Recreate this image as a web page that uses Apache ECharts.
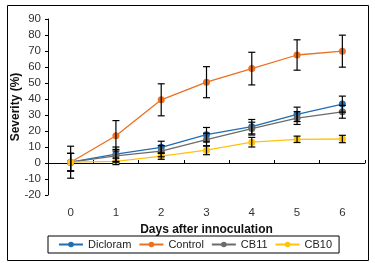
<!DOCTYPE html>
<html><head><meta charset="utf-8">
<script src="https://cdn.jsdelivr.net/npm/echarts@6/dist/echarts.min.js"></script>
<style>html,body{margin:0;padding:0;background:#fff}#c{width:375px;height:263px}</style>
</head><body><div id="c"></div>
<script>
const categories = ['0','1','2','3','4','5','6'];
const seriesNames = ['Dicloram','Control','CB11','CB10'];
const dicloram = [0.5, 5.5, 9.8, 17.7, 22.7, 30.4, 36.8];
const control  = [0.5, 17, 39.5, 50.5, 59, 67.5, 69.9];
const cb11     = [0.5, 4.5, 7.4, 14.6, 21.5, 28.1, 32];
const cb10     = [0.5, 1, 4.3, 8, 13, 14.8, 15];
const dicloramErr = [5.5, 4.5, 3.8, 4.5, 4.5, 4.5, 5];
const controlErr  = [10, 9.5, 10, 9.7, 10.2, 9.5, 10];
const cb11Err     = [5.5, 4, 3.5, 4, 4, 4, 4];
const cb10Err     = [5.5, 2, 2, 2.8, 3, 2, 2.3];
const yTicks = {min: -20, max: 90, interval: 10};
const colors = ['#1f6db3', '#ec6f22', '#6b6b6b', '#ffc20e'];

const font = '"Liberation Sans", Arial, sans-serif';
const values = [dicloram, control, cb11, cb10];
const errs = [dicloramErr, controlErr, cb11Err, cb10Err];

const series = [];
values.forEach((v, i) => {
  series.push({
    name: seriesNames[i], type: 'line', data: v,
    symbol: 'circle', symbolSize: 7,
    itemStyle: {color: colors[i]},
    lineStyle: {color: colors[i], width: 1.3},
    z: 2 + i,
    markLine: i === 0 ? {
      silent: true, symbol: 'none', label: {show: false},
      lineStyle: {color: '#000', type: [3, 3], width: 1},
      data: [{yAxis: 0}]
    } : undefined
  });
});
values.forEach((v, i) => {
  series.push({
    type: 'custom', z: 10,
    data: v.map((y, k) => [k, y - errs[i][k], y + errs[i][k]]),
    encode: {x: 0, y: [1, 2]},
    renderItem: function(params, api) {
      const x = api.value(0);
      const lo = api.coord([x, api.value(1)]);
      const hi = api.coord([x, api.value(2)]);
      const w = 3.5;
      const st = {stroke: '#000', lineWidth: 1.2};
      return {type: 'group', children: [
        {type: 'line', shape: {x1: lo[0], y1: lo[1], x2: hi[0], y2: hi[1]}, style: st},
        {type: 'line', shape: {x1: lo[0]-w, y1: lo[1], x2: lo[0]+w, y2: lo[1]}, style: st},
        {type: 'line', shape: {x1: hi[0]-w, y1: hi[1], x2: hi[0]+w, y2: hi[1]}, style: st}
      ]};
    }
  });
});

const chart = echarts.init(document.getElementById('c'));
chart.setOption({
  animation: false,
  textStyle: {fontFamily: font},
  graphic: [{type: 'rect', shape: {x: 7.5, y: 5.5, width: 361, height: 255},
    style: {fill: 'none', stroke: '#000', lineWidth: 1}, silent: true, z: -10}],
  grid: {left: 48, right: 10, top: 19, bottom: 68, outerBoundsMode: 'none'},
  legend: {
    data: seriesNames, top: 236, left: 48, width: 320,
    itemWidth: 24, itemHeight: 7, itemGap: 7,
    textStyle: {fontFamily: font, fontSize: 11, color: '#222'},
    borderColor: '#000', borderWidth: 1, padding: [3, 7, 3, 10]
  },
  xAxis: {
    type: 'category', data: categories, boundaryGap: true,
    name: 'Days after innoculation', nameLocation: 'middle', nameGap: 27,
    nameTextStyle: {fontFamily: font, fontWeight: 'bold', fontSize: 12, color: '#111'},
    axisLine: {lineStyle: {color: '#000', width: 1}},
    axisTick: {show: true, inside: true, length: 3, lineStyle: {color: '#000'}},
    axisLabel: {fontFamily: font, fontSize: 11.5, color: '#333', margin: 12}
  },
  yAxis: {
    type: 'value', min: yTicks.min, max: yTicks.max, interval: yTicks.interval,
    name: 'Severity (%)', nameLocation: 'middle', nameGap: 26, nameMoveOverlap: false,
    nameTextStyle: {fontFamily: font, fontWeight: 'bold', fontSize: 12, color: '#111'},
    axisLine: {show: true, lineStyle: {color: '#000', width: 1}},
    axisTick: {show: true, length: 3, lineStyle: {color: '#000'}},
    splitLine: {show: false},
    axisLabel: {fontFamily: font, fontSize: 11.5, color: '#333', margin: 7}
  },
  series: series
});
</script></body></html>
